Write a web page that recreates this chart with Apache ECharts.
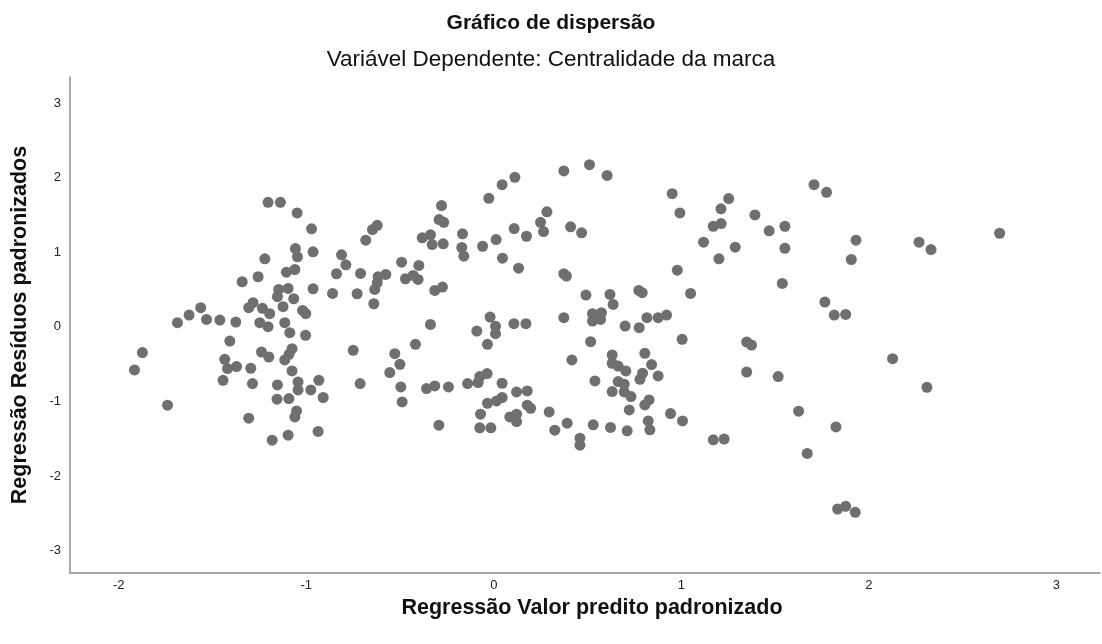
<!DOCTYPE html>
<html>
<head>
<meta charset="utf-8">
<title>Gráfico de dispersão</title>
<script src="https://cdn.jsdelivr.net/npm/echarts@6/dist/echarts.min.js"></script>
<style>
  html, body { margin: 0; padding: 0; background: #ffffff; }
  #chart { width: 1102px; height: 644px; }
</style>
</head>
<body>
<div id="chart"></div>
<script>
// Standardized predicted value (x) for each case
const predictedValues = [
  -1.204, -1.138, -1.049, -0.972, -1.058, -0.964, -1.047, -1.221, -0.812, -1.061,
  -1.106, -1.257, -1.342, -0.839, -1.147, -1.097, -1.154, -1.067, -0.964, -0.860,
  -1.284, -1.307, -1.234, -1.195, -1.124, -1.020, -1.003, -1.563, -1.625, -1.687,
  -1.532, -1.461, -1.376, -1.248, -1.204, -1.115, -1.088, -1.004, -1.408, -1.874,
  -1.916, -1.239, -1.200, -1.076, -1.092, -1.115, -1.435, -1.420, -1.372, -1.296,
  -1.076, -1.444, -1.287, -1.154, -1.044, -1.044, -0.976, -0.933, -0.910, -1.156,
  -1.093, -1.740, -1.052, -1.061, -1.307, -0.937, -1.182, -1.097,
  -0.789, -0.729, -0.711, -0.683, -0.647, -0.622, -0.640, -0.635, -0.622, -0.617,
  -0.576, -0.492, -0.471, -0.430, -0.404, -0.400, -0.382, -0.338, -0.329, -0.270,
  -0.279, -0.292, -0.267, -0.315, -0.274, -0.338, -0.750, -0.418, -0.167, -0.171,
  -0.160, -0.060, -0.027, 0.044, 0.112, 0.012, 0.046, 0.108, 0.132, 0.174,
  0.249, 0.283, 0.265, 0.373, 0.510, 0.409, 0.468, 0.373, 0.387, 0.491,
  0.373, 0.526, 0.526, -0.091, -0.020, 0.009, 0.009, -0.034, 0.107, 0.171,
  0.516, -0.528, -0.501, -0.555, -0.496, -0.489, -0.713, -0.359, -0.315, -0.242,
  -0.293, -0.140, -0.084, -0.075, -0.036, 0.044, -0.034, 0.014, 0.044, 0.121,
  0.178, -0.071, -0.075, -0.016, 0.085, 0.121, 0.121, 0.178, 0.196, 0.295,
  0.325, 0.391, 0.459, 0.459, 0.530, 0.416, 0.539,
  0.604, 0.951, 0.992, 1.118, 1.170, 1.212, 1.211, 1.252, 1.287, 1.200,
  1.392, 1.468, 1.552, 1.552, 1.707, 1.774, 1.931, 1.906, 1.538, 0.978,
  1.765, 1.815, 1.876, 0.619, 0.636, 0.773, 0.791, 1.049, 0.574, 0.569,
  0.700, 0.775, 0.816, 0.876, 0.921, 1.004, 1.348, 1.374, 0.631, 0.631,
  0.663, 0.704, 0.805, 0.841, 0.793, 0.779, 0.876, 0.663, 0.695, 0.631,
  0.695, 0.731, 0.828, 0.805, 0.722, 0.942, 1.006, 0.823, 0.832, 0.622,
  0.711, 1.170, 1.228, 1.348, 1.516, 1.625, 1.824, 1.671, 1.833, 1.876,
  1.927, 2.267, 2.331, 2.697, 2.126, 2.309
];

// Standardized residual (y) for each case, same order
const residualValues = [
  1.670, 1.670, 1.528, 1.314, 1.050, 1.006, 0.939, 0.913, 0.966, 0.769,
  0.733, 0.672, 0.605, 0.712, 0.502, 0.515, 0.404, 0.377, 0.511, 0.448,
  0.324, 0.257, 0.248, 0.177, 0.270, 0.221, 0.177, 0.257, 0.158, 0.056,
  0.100, 0.091, 0.064, 0.056, 0.003, 0.056, -0.078, -0.114, -0.190, -0.345,
  -0.578, -0.337, -0.404, -0.292, -0.368, -0.444, -0.435, -0.559, -0.533, -0.555,
  -0.591, -0.716, -0.760, -0.779, -0.739, -0.846, -0.846, -0.716, -0.947, -0.970,
  -0.961, -1.050, -1.127, -1.207, -1.224, -1.402, -1.519, -1.452,
  0.832, 0.444, 0.716, 1.162, 1.305, 1.362, 0.310, 0.502, 0.591, 0.672,
  0.703, 0.867, 0.645, 0.689, 0.636, 0.823, 1.194, 1.234, 1.104, 1.113,
  1.626, 1.439, 1.402, 0.488, 0.533, 0.033, -0.314, -0.234, 1.247, 1.064,
  0.947, 1.081, 1.724, 1.907, 2.005, 1.171, 0.921, 1.318, 0.787, 1.215,
  1.402, 1.542, 1.278, 2.090, 2.175, 1.341, 1.261, 0.712, 0.682, 0.426,
  0.123, 0.177, 0.078, -0.056, 0.131, 0.007, -0.091, -0.234, 0.043, 0.043,
  -0.198, -0.359, -0.502, -0.613, -0.806, -1.006, -0.760, -0.827, -0.792, -0.806,
  -1.318, -0.760, -0.747, -0.666, -0.626, -0.756, -1.024, -0.993, -0.947, -0.872,
  -0.859, -1.171, -1.354, -1.354, -1.207, -1.171, -1.269, -1.050, -1.091, -1.140,
  -1.385, -1.291, -1.492, -1.586, -1.314, -0.444, -0.725,
  2.031, 1.786, 1.528, 1.135, 1.349, 1.385, 1.582, 1.720, 1.068, 0.913,
  1.501, 1.287, 1.349, 1.054, 1.907, 1.804, 1.162, 0.903, 0.582, 0.760,
  0.332, 0.158, 0.167, 0.435, 0.301, 0.488, 0.458, 0.448, 0.190, 0.100,
  0.011, -0.011, 0.123, 0.123, 0.158, -0.167, -0.203, -0.244, -0.377, -0.488,
  -0.525, -0.591, -0.355, -0.506, -0.622, -0.703, -0.658, -0.733, -0.769, -0.867,
  -0.872, -0.934, -0.980, -1.046, -1.113, -1.162, -1.261, -1.261, -1.381, -1.349,
  -1.394, -1.515, -1.505, -0.605, -0.666, -1.131, -1.341, -1.697, -2.442, -2.406,
  -2.486, 1.135, 1.037, 1.255, -0.426, -0.810
];

// Axis extents, fine tick steps (min is a multiple of the step) and the labelled ticks
const xExtent = [-2.26, 3.232];
const yExtent = [-3.3, 3.35];
const xStep = 0.02;
const yStep = 0.05;
const xTickLabels = [-2, -1, 0, 1, 2, 3];
const yTickLabels = [-3, -2, -1, 0, 1, 2, 3];

const titleText = 'Gráfico de dispersão';
const subtitleText = 'Variável Dependente: Centralidade da marca';
const xAxisTitle = 'Regressão Valor predito padronizado';
const yAxisTitle = 'Regressão Resíduos padronizados';

const points = predictedValues.map((x, i) => [x, residualValues[i]]);

const FONT = '"Liberation Sans", Arial, sans-serif';
const AXIS_COLOR = '#8c8c8c';

// Only whole-number ticks from the list get a label
function integerLabel(list) {
  return function (v) {
    const r = Math.round(v);
    return (Math.abs(v - r) < 1e-6 && list.indexOf(r) !== -1) ? String(r) : '';
  };
}

const chart = echarts.init(document.getElementById('chart'), null, { renderer: 'canvas' });

chart.setOption({
  animation: false,
  backgroundColor: '#ffffff',
  textStyle: { fontFamily: FONT },
  title: [
    {
      text: titleText,
      left: 'center',
      top: 8,
      textStyle: { fontFamily: FONT, fontSize: 21, fontWeight: 'bold', color: '#111111' }
    },
    {
      text: subtitleText,
      left: 'center',
      top: 43,
      textStyle: { fontFamily: FONT, fontSize: 22.5, fontWeight: 'normal', color: '#111111' }
    }
  ],
  grid: { left: 70, right: 2, top: 77, bottom: 71, containLabel: false },
  xAxis: {
    type: 'value',
    min: xExtent[0],
    max: xExtent[1],
    interval: xStep,
    name: xAxisTitle,
    nameLocation: 'middle',
    nameGap: 19,
    nameTextStyle: {
      fontFamily: FONT, fontSize: 21.5, fontWeight: 'bold', color: '#111111',
      padding: [0, 0, 0, 14]
    },
    axisLine: { show: true, onZero: false, lineStyle: { color: AXIS_COLOR, width: 1.5 } },
    axisTick: { show: false },
    splitLine: { show: false },
    axisLabel: {
      margin: 6,
      fontSize: 13,
      color: '#222222',
      fontFamily: FONT,
      showMinLabel: false,
      showMaxLabel: false,
      formatter: integerLabel(xTickLabels)
    }
  },
  yAxis: {
    type: 'value',
    min: yExtent[0],
    max: yExtent[1],
    interval: yStep,
    name: yAxisTitle,
    nameLocation: 'middle',
    nameRotate: 90,
    nameGap: 39,
    nameTextStyle: { fontFamily: FONT, fontSize: 21.5, fontWeight: 'bold', color: '#111111' },
    axisLine: { show: true, onZero: false, lineStyle: { color: AXIS_COLOR, width: 1.5 } },
    axisTick: { show: false },
    splitLine: { show: false },
    axisLabel: {
      margin: 9,
      fontSize: 13,
      color: '#222222',
      fontFamily: FONT,
      showMinLabel: false,
      showMaxLabel: false,
      formatter: integerLabel(yTickLabels)
    }
  },
  series: [
    {
      type: 'scatter',
      data: points,
      symbol: 'circle',
      symbolSize: 11,
      itemStyle: { color: '#6f6f6f', opacity: 1 },
      emphasis: { disabled: true }
    }
  ]
});
</script>
</body>
</html>
